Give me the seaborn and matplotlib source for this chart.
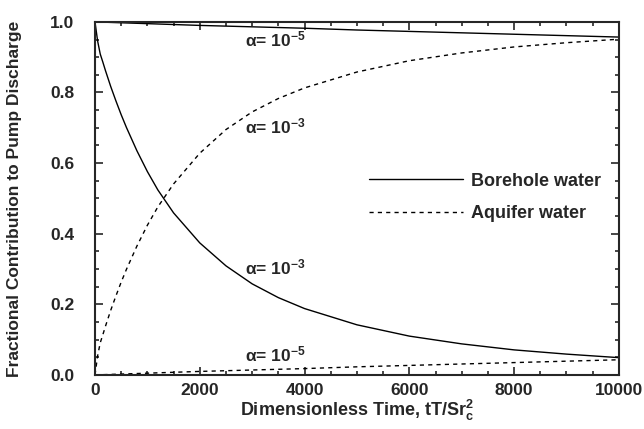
import numpy as np
import pandas as pd
import matplotlib
matplotlib.use("Agg")
import matplotlib.pyplot as plt
from matplotlib.lines import Line2D
from matplotlib.ticker import MultipleLocator
import seaborn as sns

# Data
t_fast = [0, 50, 100, 150, 200, 300, 400, 500, 600, 800, 1000, 1200, 1500, 2000,
          2500, 3000, 3500, 4000, 5000, 6000, 7000, 8000, 9000, 10000]
bore_fast = [1.0, 0.946, 0.909, 0.886, 0.862, 0.817, 0.776, 0.737, 0.701, 0.635,
             0.576, 0.524, 0.459, 0.374, 0.309, 0.258, 0.219, 0.188, 0.142, 0.110,
             0.088, 0.071, 0.059, 0.049]
aqui_fast = [0.0, 0.054, 0.091, 0.114, 0.138, 0.183, 0.224, 0.263, 0.299, 0.365,
             0.424, 0.476, 0.541, 0.628, 0.695, 0.745, 0.783, 0.813, 0.858, 0.890,
             0.912, 0.929, 0.941, 0.951]

t_slow = [0, 1000, 2000, 3000, 4000, 5000, 6000, 7000, 8000, 9000, 10000]
bore_slow = [1.0, 0.995, 0.99, 0.986, 0.982, 0.977, 0.973, 0.969, 0.965, 0.961, 0.957]
aqui_slow = [0.0, 0.005, 0.01, 0.014, 0.018, 0.023, 0.027, 0.031, 0.035, 0.039, 0.043]

labels = [r"$\alpha$= 10$^{-5}$", r"$\alpha$= 10$^{-3}$", r"$\alpha$= 10$^{-3}$", r"$\alpha$= 10$^{-5}$"]
label_pos = [(2860, 0.95), (2860, 0.705), (2860, 0.305), (2860, 0.058)]

sns.set_style("ticks")
plt.rcParams["font.family"] = ["Liberation Sans", "DejaVu Sans"]
plt.rcParams["mathtext.fontset"] = "custom"
plt.rcParams["mathtext.rm"] = "Liberation Sans:bold"
plt.rcParams["mathtext.it"] = "Liberation Sans:bold"
plt.rcParams["mathtext.bf"] = "Liberation Sans:bold"

fig = plt.figure(figsize=(6.44, 4.29), dpi=100)
ax = fig.add_axes([0.1475, 0.126, 0.8135, 0.823])

sns.lineplot(x=t_fast, y=bore_fast, ax=ax, color="black", lw=1.0)
sns.lineplot(x=t_slow, y=bore_slow, ax=ax, color="black", lw=1.0)
sns.lineplot(x=t_fast, y=aqui_fast, ax=ax, color="black", lw=1.0, linestyle=(0, (3, 3)))
sns.lineplot(x=t_slow, y=aqui_slow, ax=ax, color="black", lw=1.0, linestyle=(0, (3, 3)))

for txt, (x, y) in zip(labels, label_pos):
    ax.text(x, y, txt, fontsize=12.5, fontweight="bold", ha="left", va="center")

ax.set_xlim(0, 10000)
ax.set_ylim(0, 1.0)
ax.xaxis.set_major_locator(MultipleLocator(2000))
ax.xaxis.set_minor_locator(MultipleLocator(500))
ax.yaxis.set_major_locator(MultipleLocator(0.2))
ax.yaxis.set_minor_locator(MultipleLocator(0.05))
ax.yaxis.set_major_formatter(matplotlib.ticker.FormatStrFormatter("%.1f"))
ax.tick_params(which="both", direction="in", top=True, right=True, width=1.2)
ax.tick_params(which="major", length=6, labelsize=12.5)
ax.tick_params(axis="x", which="major", pad=6)
ax.tick_params(axis="y", which="major", pad=15)
ax.tick_params(which="minor", length=3)
for lab in ax.get_xticklabels() + ax.get_yticklabels():
    lab.set_fontweight("bold")
for s in ax.spines.values():
    s.set_linewidth(1.5)
    s.set_visible(True)

ax.set_xlabel(r"Dimensionless Time, tT/Sr$_{\mathregular{c}}^{\mathregular{2}}$",
              fontsize=13, fontweight="bold", labelpad=0)
ax.set_ylabel("Fractional Contribution to Pump Discharge", fontsize=12.5,
              fontweight="bold", labelpad=20)

handles = [Line2D([], [], color="black", lw=1.0),
           Line2D([], [], color="black", lw=1.0, linestyle=(0, (3, 3)))]
ax.legend(handles, ["Borehole water", "Aquifer water"], loc="center left",
          bbox_to_anchor=(0.51, 0.503), frameon=False, handlelength=5.2,
          prop={"weight": "bold", "size": 13}, labelspacing=0.85, handletextpad=0.45,
          borderaxespad=0)

fig.savefig("out.png", dpi=100)
